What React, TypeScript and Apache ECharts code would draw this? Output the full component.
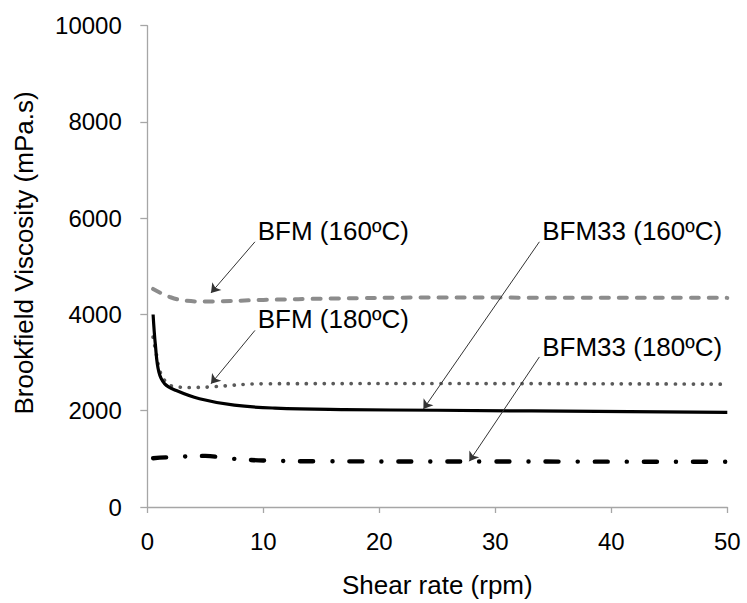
import React, { useEffect, useRef } from 'react';
import * as echarts from 'echarts';

// Shear rate (rpm) and Brookfield viscosity (mPa.s)
const bfm160X = [0.5, 2, 3.4, 5, 10, 16, 24, 50];
const bfm160Y = [4530, 4358, 4283, 4269, 4303, 4331, 4351, 4345];

const bfm180X = [0.5, 0.8, 1.1, 1.6, 2.3, 4, 5.5, 10, 25, 50];
const bfm180Y = [3530, 3150, 2810, 2600, 2500, 2483, 2497, 2560, 2566, 2552];

const bfm33_160X = [0.5, 0.7, 1, 1.5, 2.5, 4.5, 7.5, 11, 17, 25, 50];
const bfm33_160Y = [4000, 3360, 2800, 2560, 2420, 2250, 2115, 2055, 2025, 2010, 1966];

const bfm33_180X = [0.5, 2, 5, 7, 10, 15, 30, 50];
const bfm33_180Y = [1014, 1035, 1062, 1010, 966, 950, 945, 940];

const xTicks = { min: 0, max: 50, interval: 10 };
const yTicks = { min: 0, max: 10000, interval: 2000 };

// annotation labels: [text, x, y] in data coordinates, arrows: from -> to
const labelTexts = ['BFM (160ºC)', 'BFM (180ºC)', 'BFM33 (160ºC)', 'BFM33 (180ºC)'];
const labelAt = [
  [9.48, 5731],
  [9.48, 3910],
  [34.0, 5731],
  [34.0, 3331],
];
const arrowFrom = [
  [9.28, 5510],
  [9.28, 3669],
  [33.8, 5510],
  [33.8, 3118],
];
const arrowTo = [
  [5.49, 4448],
  [5.49, 2560],
  [23.8, 2034],
  [27.76, 950],
];

const FONT = '"Liberation Sans", Arial, sans-serif';

function pairs(xs: number[], ys: number[]) {
  return xs.map((x, i) => [x, ys[i]]);
}

function annotation(i: number) {
  return {
    markLine: {
      silent: true,
      symbol: ['none', 'arrow'],
      symbolSize: 9,
      label: { show: false },
      lineStyle: { color: '#333', width: 1, type: 'solid' },
      data: [[{ coord: arrowFrom[i] }, { coord: arrowTo[i] }]],
    },
    markPoint: {
      silent: true,
      symbol: 'rect',
      symbolSize: 1,
      itemStyle: { color: 'rgba(0,0,0,0)' },
      label: {
        show: true,
        position: 'right',
        distance: 0,
        formatter: '{b}',
        color: '#000',
        fontSize: 26,
        fontFamily: FONT,
      },
      data: [{ name: labelTexts[i], coord: labelAt[i] }],
    },
  };
}

export default function App() {
  const ref = useRef<HTMLDivElement>(null);
  useEffect(() => {
    if (!ref.current) return;
    const chart = echarts.init(ref.current, null, { renderer: 'svg' });
    const axisLine = { show: true, lineStyle: { color: '#a6a6a6', width: 1.3 } };
    chart.setOption({
      animation: false,
      backgroundColor: '#fff',
      grid: { left: 147.3, right: 19.7, top: 25.7, bottom: 94, containLabel: false },
      xAxis: {
        type: 'value',
        ...xTicks,
        axisLine: { ...axisLine, onZero: false },
        axisTick: { show: true, length: 6, lineStyle: { color: '#a6a6a6', width: 1.3 } },
        splitLine: { show: false },
        axisLabel: {
          color: '#000',
          fontSize: 24,
          fontFamily: FONT,
          margin: 22,
          formatter: (v: number) => String(v),
        },
        name: 'Shear rate (rpm)',
        nameLocation: 'middle',
        nameGap: 65,
        nameTextStyle: { color: '#000', fontSize: 26, fontFamily: FONT },
      },
      yAxis: {
        type: 'value',
        ...yTicks,
        axisLine,
        axisTick: { show: true, length: 7, lineStyle: { color: '#a6a6a6', width: 1.3 } },
        splitLine: { show: false },
        axisLabel: {
          color: '#000',
          fontSize: 24,
          fontFamily: FONT,
          margin: 25.5,
          formatter: (v: number) => String(v),
        },
      },
      graphic: [
        {
          type: 'text',
          x: 23.5,
          y: 253,
          rotation: Math.PI / 2,
          style: {
            text: 'Brookfield Viscosity (mPa.s)',
            fill: '#000',
            font: `26px ${FONT}`,
            textAlign: 'center',
            textVerticalAlign: 'middle',
          },
        },
      ],
      series: [
        {
          name: 'BFM (160ºC)',
          type: 'line',
          data: pairs(bfm160X, bfm160Y),
          smooth: 0.4,
          showSymbol: false,
          symbol: 'none',
          lineStyle: { color: '#8c8c8c', width: 4, type: [8, 10], cap: 'round' },
          ...annotation(0),
        },
        {
          name: 'BFM (180ºC)',
          type: 'line',
          data: pairs(bfm180X, bfm180Y),
          smooth: 0.4,
          showSymbol: false,
          symbol: 'none',
          lineStyle: { color: '#5a5a5a', width: 3.7, type: [0.1, 8.9], cap: 'round' },
          ...annotation(1),
        },
        {
          name: 'BFM33 (160ºC)',
          type: 'line',
          data: pairs(bfm33_160X, bfm33_160Y),
          smooth: 0.4,
          showSymbol: false,
          symbol: 'none',
          lineStyle: { color: '#000', width: 3.2, type: 'solid', join: 'round' },
          ...annotation(2),
        },
        {
          name: 'BFM33 (180ºC)',
          type: 'line',
          data: pairs(bfm33_180X, bfm33_180Y),
          smooth: 0.4,
          showSymbol: false,
          symbol: 'none',
          lineStyle: { color: '#000', width: 4.4, type: [13, 19, 0.1, 17], cap: 'round' },
          ...annotation(3),
        },
      ],
    });
    return () => chart.dispose();
  }, []);
  return (
    <div
      ref={ref}
      style={{ position: 'fixed', left: 0, top: 0, width: 747, height: 603, background: '#fff' }}
    />
  );
}
